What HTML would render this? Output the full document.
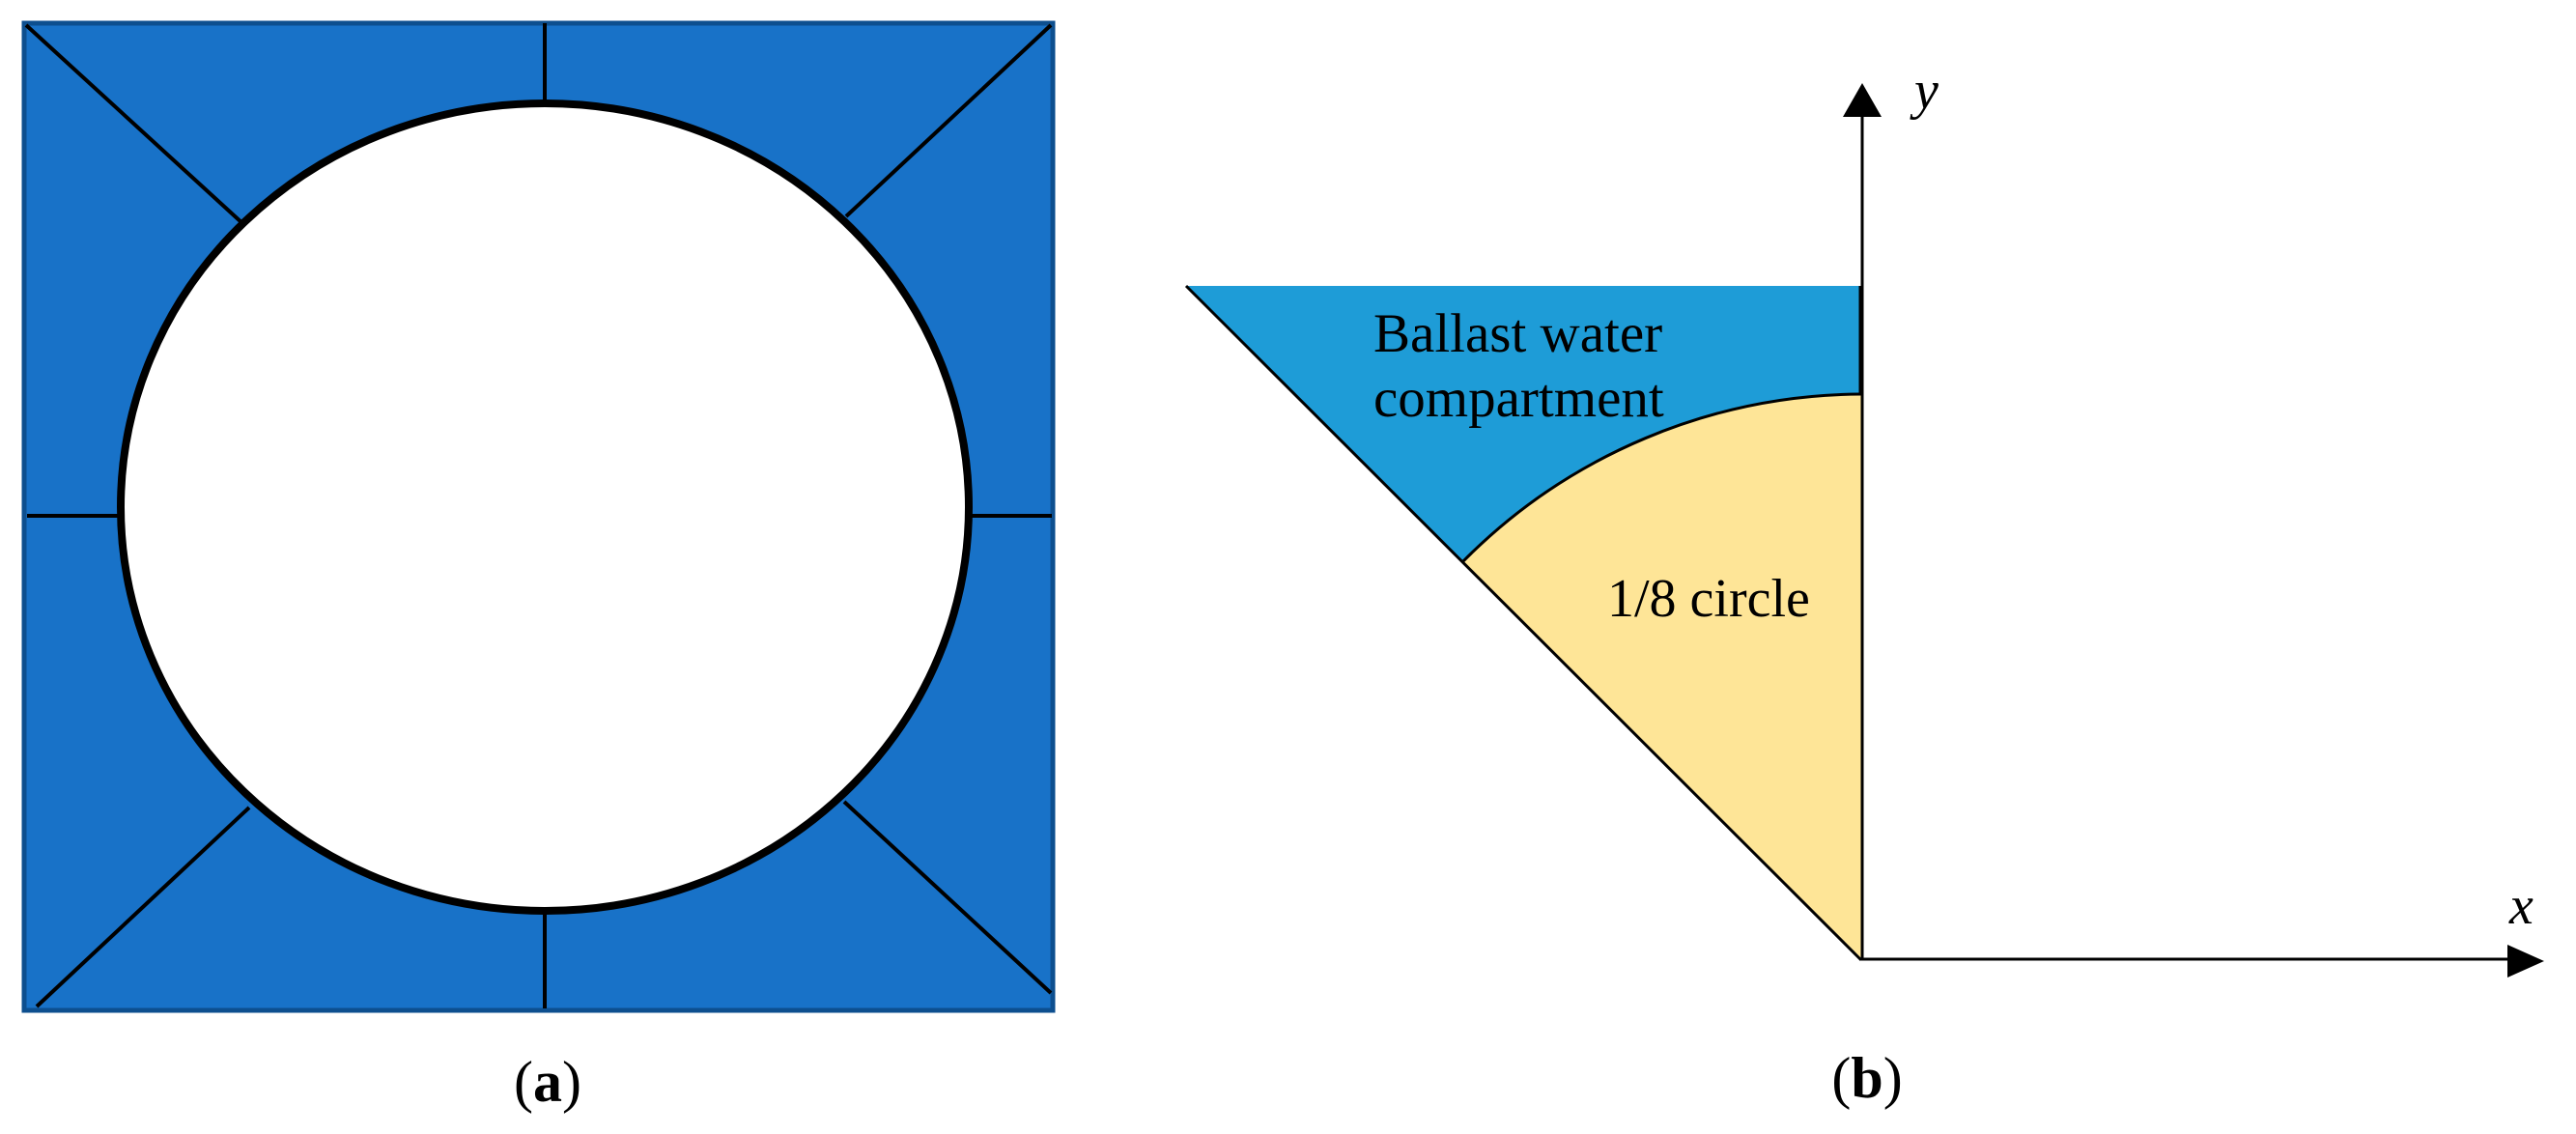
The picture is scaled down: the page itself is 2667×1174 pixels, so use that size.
<!DOCTYPE html>
<html><head><meta charset="utf-8"><style>
html,body{margin:0;padding:0;background:#fff;}
svg{display:block;}
text{font-family:"Liberation Serif",serif;fill:#000;}
</style></head><body>
<svg width="2667" height="1174" viewBox="0 0 2667 1174" xmlns="http://www.w3.org/2000/svg">
<!-- Panel a -->
<rect x="25" y="24" width="1065" height="1022" fill="#1872c8" stroke="#0d4f8f" stroke-width="5"/>
<g stroke="#000" stroke-width="4">
<line x1="27" y1="26" x2="252" y2="232"/>
<line x1="1088" y1="26" x2="876" y2="224"/>
<line x1="38" y1="1042" x2="258" y2="836"/>
<line x1="1088" y1="1028" x2="874" y2="830"/>
<line x1="564" y1="24" x2="564" y2="110"/>
<line x1="564" y1="940" x2="564" y2="1044"/>
<line x1="28" y1="534" x2="130" y2="534"/>
<line x1="1000" y1="534" x2="1089" y2="534"/>
</g>
<ellipse cx="564" cy="525" rx="439" ry="418" fill="#fff" stroke="#000" stroke-width="8"/>
<text x="567" y="1140" font-size="60" text-anchor="middle">(<tspan font-weight="bold">a</tspan>)</text>

<!-- Panel b -->
<path d="M1228,296 L1927,296 L1927,408 A584,584 0 0 0 1514,582 Z" fill="#1e9cd7"/>
<path d="M1514,582 A584,584 0 0 1 1927,408 L1927,992 Z" fill="#fee597"/>
<line x1="1228" y1="296" x2="1927" y2="994" stroke="#000" stroke-width="3"/>
<path d="M1514,582 A584,584 0 0 1 1927,408" fill="none" stroke="#000" stroke-width="3"/>
<line x1="1927" y1="296" x2="1927" y2="408" stroke="#000" stroke-width="5"/>
<line x1="1928" y1="115" x2="1928" y2="994" stroke="#000" stroke-width="3"/>
<line x1="1927" y1="993" x2="2600" y2="993" stroke="#000" stroke-width="3"/>
<polygon points="1928,86 1908,121 1948,121" fill="#000"/>
<polygon points="2634,995 2596,978 2596,1012" fill="#000"/>
<text x="1422" y="364" font-size="57">Ballast water</text>
<text x="1422" y="431" font-size="57">compartment</text>
<text x="1664" y="638" font-size="56">1/8 circle</text>
<text x="1982" y="112" font-size="56" font-style="italic">y</text>
<text x="2598" y="956" font-size="56" font-style="italic">x</text>
<text x="1933" y="1136" font-size="60" text-anchor="middle">(<tspan font-weight="bold">b</tspan>)</text>
</svg>
</body></html>
